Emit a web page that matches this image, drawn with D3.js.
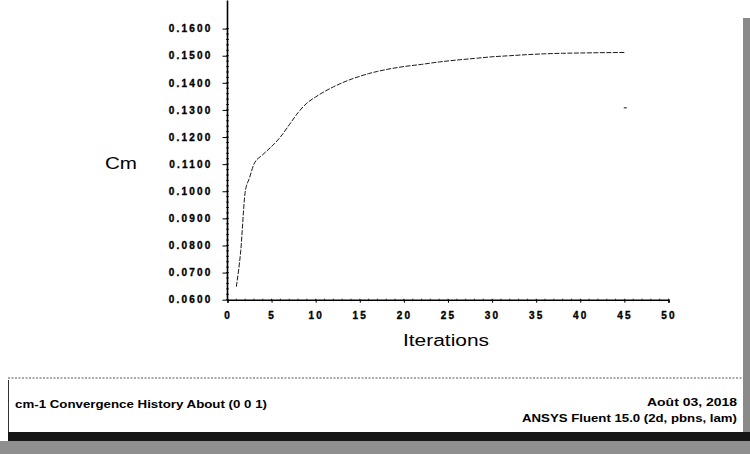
<!DOCTYPE html>
<html><head><meta charset="utf-8">
<script src="https://cdn.jsdelivr.net/npm/d3@7/dist/d3.min.js"></script>
<style>body{margin:0;background:#fff}svg{display:block}</style>
</head><body>
<svg id="c" width="750" height="454"></svg>
<script>
const iterations = [1, 1.5, 2, 2.5, 3, 4, 5, 6, 7, 8, 9, 10, 11, 12, 13, 14, 15, 16, 17, 18, 20, 22, 24, 26, 28, 30, 32, 34, 36, 38, 40, 42, 45];
const cmValues = [0.0648, 0.0780, 0.0995, 0.1050, 0.1100, 0.1135, 0.1165, 0.1200, 0.1245, 0.1290, 0.1325, 0.1348, 0.1368, 0.1385, 0.1400, 0.1413, 0.1424, 0.1434, 0.1442, 0.1449, 0.1460, 0.1468, 0.1477, 0.1484, 0.1490, 0.1496, 0.1500, 0.1504, 0.1507, 0.1509, 0.1510, 0.1511, 0.1512];
const strayPoint = [45.1, 0.1308];
const xTicks = [0, 5, 10, 15, 20, 25, 30, 35, 40, 45, 50];
const yTicks = [0.06, 0.07, 0.08, 0.09, 0.10, 0.11, 0.12, 0.13, 0.14, 0.15, 0.16];
const xLabel = "Iterations";
const yLabel = "Cm";
const footerLeft = "cm-1 Convergence History About (0 0 1)";
const footerDate = "Août 03, 2018";
const footerSoft = "ANSYS Fluent 15.0 (2d, pbns, lam)";

const svg = d3.select("#c");
const x = d3.scaleLinear().domain([0, 50]).range([227.5, 668.5]);
const y = d3.scaleLinear().domain([0.06, 0.16]).range([299.7, 28.6]);

// scan artifacts
svg.append("rect").attr("x", 743).attr("y", 18).attr("width", 7).attr("height", 436).attr("fill", "#8a8a8a");
svg.append("rect").attr("x", 8).attr("y", 432).attr("width", 742).attr("height", 9).attr("fill", "#161616");
svg.append("rect").attr("x", 0).attr("y", 441).attr("width", 750).attr("height", 13).attr("fill", "#8f8f8f");

// footer box
svg.append("line").attr("x1", 8).attr("x2", 742).attr("y1", 378).attr("y2", 378)
  .attr("stroke", "#555").attr("stroke-width", 1).attr("stroke-dasharray", "2,1.5");
svg.append("line").attr("x1", 8.5).attr("x2", 8.5).attr("y1", 380).attr("y2", 432)
  .attr("stroke", "#333").attr("stroke-width", 1);

const g = svg.append("g");
// minor ticks
const yMinor = d3.range(0.06, 0.1601, 0.002);
g.selectAll(".ym").data(yMinor).join("line")
  .attr("x1", x(0) - 1.5).attr("x2", x(0) + 1.5).attr("y1", d => y(d)).attr("y2", d => y(d))
  .attr("stroke", "#000").attr("stroke-width", 0.8);
const xMinor = d3.range(0, 51, 1);
g.selectAll(".xm").data(xMinor).join("line")
  .attr("x1", d => x(d)).attr("x2", d => x(d)).attr("y1", y(0.06) - 1).attr("y2", y(0.06) + 1.5)
  .attr("stroke", "#000").attr("stroke-width", 0.8);

const yAxis = d3.axisLeft(y).tickValues(yTicks).tickFormat(d3.format(".4f")).tickSize(5).tickPadding(10);
const ya = g.append("g").attr("transform", `translate(${x(0)},0)`).call(yAxis);
const xAxis = d3.axisBottom(x).tickValues(xTicks).tickFormat(d3.format("d")).tickSize(3).tickPadding(9);
const xa = g.append("g").attr("transform", `translate(0,${y(0.06)})`).call(xAxis);
[ya, xa].forEach(a => {
  a.select(".domain").attr("stroke", "#000").attr("stroke-width", 1.6);
  a.selectAll(".tick line").attr("stroke", "#000").attr("stroke-width", 1);
  a.selectAll("text").attr("fill", "#000").attr("font-family", "Liberation Sans, Arial, sans-serif")
    .attr("font-weight", "bold").attr("font-size", 10).attr("stroke", "#000").attr("stroke-width", 0.35)
    .style("letter-spacing", "2.2px");
});
ya.select(".domain").attr("d", `M0,${y(0.06)}V${y(0.16) - 28}`);

// labels
svg.append("text").attr("x", 446).attr("y", 346).attr("text-anchor", "middle")
  .attr("font-family", "Liberation Sans, Arial, sans-serif").attr("font-size", 16)
  .attr("textLength", 86).attr("lengthAdjust", "spacingAndGlyphs").text(xLabel);
svg.append("text").attr("x", 105).attr("y", 169)
  .attr("font-family", "Liberation Sans, Arial, sans-serif").attr("font-size", 16)
  .attr("textLength", 32).attr("lengthAdjust", "spacingAndGlyphs").text(yLabel);

// curve
const line = d3.line().x(d => x(d[0])).y(d => y(d[1])).curve(d3.curveMonotoneX);
svg.append("path").datum(iterations.map((v, i) => [v, cmValues[i]]))
  .attr("d", line).attr("fill", "none").attr("stroke", "#1a1a1a").attr("stroke-width", 1)
  .attr("stroke-dasharray", "5,1.5");
svg.append("rect").attr("x", x(strayPoint[0]) - 1.5).attr("y", y(strayPoint[1]) - 0.7)
  .attr("width", 3).attr("height", 1.4).attr("fill", "#555");

// footer text
const ff = "Liberation Sans, Arial, sans-serif";
svg.append("text").attr("x", 15).attr("y", 408).attr("font-family", ff).attr("font-weight", "bold")
  .attr("font-size", 10).attr("textLength", 252).attr("lengthAdjust", "spacingAndGlyphs").text(footerLeft);
svg.append("text").attr("x", 737).attr("y", 406).attr("text-anchor", "end").attr("font-family", ff).attr("font-weight", "bold")
  .attr("font-size", 10).attr("textLength", 90).attr("lengthAdjust", "spacingAndGlyphs").text(footerDate);
svg.append("text").attr("x", 737).attr("y", 422).attr("text-anchor", "end").attr("font-family", ff).attr("font-weight", "bold")
  .attr("font-size", 10).attr("textLength", 215).attr("lengthAdjust", "spacingAndGlyphs").text(footerSoft);
</script>
</body></html>
